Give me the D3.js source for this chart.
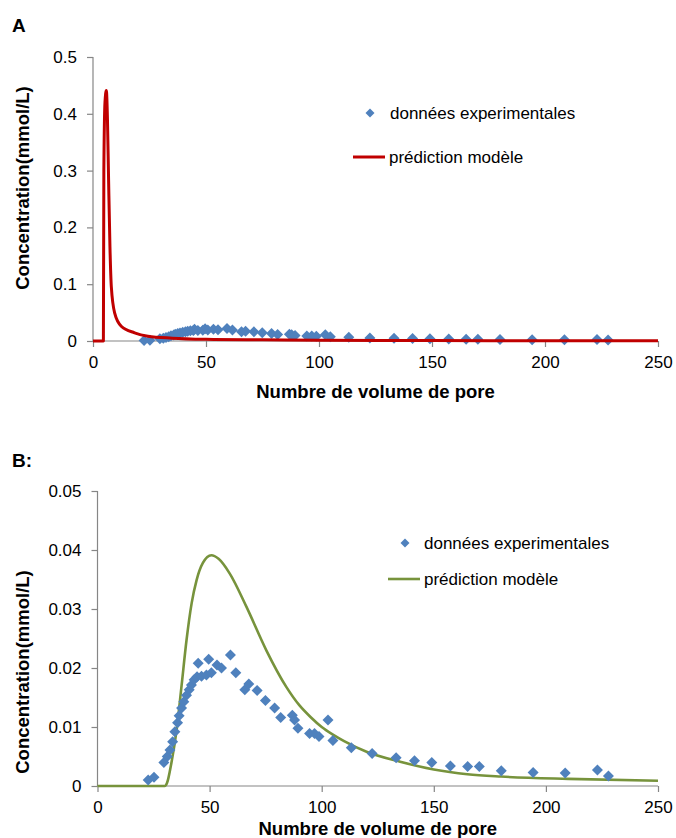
<!DOCTYPE html>
<html><head><meta charset="utf-8">
<script src="https://cdn.jsdelivr.net/npm/d3@7/dist/d3.min.js"></script>
<style>
html,body{margin:0;padding:0;background:#fff;}
svg{display:block;font-family:"Liberation Sans",Arial,sans-serif;}
</style></head>
<body>
<script>
// ---- data ----
const xTicks = [0, 50, 100, 150, 200, 250];
const yTicksA = [0, 0.1, 0.2, 0.3, 0.4, 0.5];
const yTicksB = [0, 0.01, 0.02, 0.03, 0.04, 0.05];
const seriesNames = ["données experimentales", "prédiction modèle"];
const panelLabels = ["A", "B:"];
const xTitle = "Numbre de volume de pore";
const yTitle = "Concentration(mmol/L)";

const expX = [22.6, 25.2, 29.6, 31.1, 32.3, 33.5, 34.5, 35.7, 36.4, 37.5, 38.5, 39.7, 40.9, 41.9, 43.1, 44.4, 44.9, 46.4, 48.6, 49.6, 50.8, 53.3, 55.3, 59.3, 61.7, 65.7, 67.5, 71.2, 74.9, 79.0, 81.7, 86.9, 87.9, 89.4, 94.6, 96.8, 98.8, 102.8, 105.0, 113.2, 122.5, 133.2, 141.4, 149.1, 157.4, 165.1, 170.3, 180.1, 194.3, 208.6, 223.0, 227.9];
const expY = [0.0010, 0.0015, 0.0040, 0.0050, 0.0061, 0.0075, 0.0092, 0.0107, 0.0119, 0.0132, 0.0143, 0.0154, 0.0163, 0.0171, 0.0180, 0.0185, 0.0208, 0.0186, 0.0188, 0.0215, 0.0192, 0.0205, 0.0200, 0.0222, 0.0192, 0.0163, 0.0173, 0.0162, 0.0145, 0.0132, 0.0116, 0.0120, 0.0112, 0.0098, 0.0089, 0.0089, 0.0084, 0.0112, 0.0077, 0.0065, 0.0055, 0.0048, 0.0043, 0.0040, 0.0034, 0.0033, 0.0033, 0.0026, 0.0023, 0.0022, 0.0027, 0.0017];

const modelAX = [0, 4.6, 4.8, 5.3, 5.9, 6.4, 6.9, 7.5, 8.1, 9.6, 12.5, 18.4, 24.3, 35, 50, 75, 100, 150, 200, 250];
const modelAY = [0, 0, 0.30, 0.42, 0.441, 0.39, 0.283, 0.166, 0.096, 0.049, 0.026, 0.0144, 0.0084, 0.005, 0.003, 0.002, 0.0013, 0.0008, 0.0005, 0.0004];

const modelBX = [0, 30, 31, 33, 35.3, 37.5, 39.7, 42, 44.2, 47, 50.8, 54, 59, 66.4, 75.3, 84.2, 90, 95, 100, 105, 110, 120, 135, 150, 165, 180, 210, 250];
const modelBY = [0, 0, 0.0005, 0.004, 0.0095, 0.017, 0.0247, 0.031, 0.0349, 0.0378, 0.0391, 0.0385, 0.036, 0.0304, 0.023, 0.0168, 0.0137, 0.0117, 0.0100, 0.0087, 0.0076, 0.0058, 0.0041, 0.0028, 0.002, 0.0016, 0.0012, 0.0009];

// ---- drawing ----
const W = 676, H = 838;
const svg = d3.select("body").append("svg").attr("width", W).attr("height", H);

const FONT = 17;
const TITLE_FONT = 18.5;
const axisColor = "#868686";
const blue = "#4F81BD";

function diamondPath(cx, cy, r) {
  return `M${cx},${cy - r}L${cx + r},${cy}L${cx},${cy + r}L${cx - r},${cy}Z`;
}

function panel(cfg) {
  const g = svg.append("g");
  const x = d3.scaleLinear().domain([0, 250]).range([cfg.left, cfg.right]);
  const y = d3.scaleLinear().domain([0, cfg.yMax]).range([cfg.bottom, cfg.top]);

  // panel label
  g.append("text").attr("x", 12).attr("y", cfg.labelY)
    .attr("font-size", 19).attr("font-weight", "bold").text(cfg.label);

  // y axis
  const ya = g.append("g").attr("transform", `translate(${cfg.left},0)`)
    .call(d3.axisLeft(y).tickValues(cfg.yTicks).tickSize(6).tickPadding(10)
      .tickFormat(d => String(d)));
  // x axis
  const xa = g.append("g").attr("transform", `translate(0,${cfg.bottom})`)
    .call(d3.axisBottom(x).tickValues(xTicks).tickSize(6).tickPadding(9)
      .tickFormat(d => String(d)));
  [ya, xa].forEach(a => {
    a.select(".domain").attr("stroke", axisColor).attr("stroke-width", 1.2);
    a.selectAll(".tick line").attr("stroke", axisColor).attr("stroke-width", 1.2);
    a.selectAll("text").attr("font-size", FONT).attr("fill", "#000")
      .attr("font-family", '"Liberation Sans",Arial,sans-serif');
  });
  xa.select(".domain").attr("d", `M${cfg.left},0H${cfg.right}`);
  ya.select(".domain").attr("d", `M0,${cfg.bottom}V${cfg.top}`);

  // axis titles
  g.append("text").attr("x", (cfg.left + cfg.right) / 2).attr("y", cfg.xTitleY)
    .attr("text-anchor", "middle").attr("font-size", TITLE_FONT).attr("font-weight", "bold")
    .text(xTitle);
  g.append("text").attr("transform", `translate(${cfg.yTitleX},${cfg.yTitleCY}) rotate(-90)`)
    .attr("text-anchor", "middle").attr("font-size", TITLE_FONT).attr("font-weight", "bold")
    .text(yTitle);

  const line = d3.line().x(d => x(d[0])).y(d => y(d[1])).curve(d3.curveMonotoneX);
  const modelPts = cfg.mx.map((v, i) => [v, cfg.my[i]]);
  const expPts = expX.map((v, i) => [v, expY[i]]);

  const drawLine = () => g.append("path").datum(modelPts).attr("d", line)
    .attr("fill", "none").attr("stroke", cfg.color).attr("stroke-width", cfg.lw)
    .attr("stroke-linejoin", "round");
  const drawPts = () => g.append("g").selectAll("path").data(expPts).join("path")
    .attr("d", d => diamondPath(x(d[0]), y(d[1]), 5.5)).attr("fill", blue);

  if (cfg.lineOnTop) { drawPts(); drawLine(); } else { drawLine(); drawPts(); }

  // legend
  const L = cfg.legend;
  g.append("path").attr("d", diamondPath(L.mx, L.my, 4.5)).attr("fill", blue);
  g.append("text").attr("x", L.tx).attr("y", L.my).attr("dy", "0.35em")
    .attr("font-size", FONT).text(seriesNames[0]);
  g.append("line").attr("x1", L.lx1).attr("x2", L.lx2).attr("y1", L.ly).attr("y2", L.ly)
    .attr("stroke", cfg.color).attr("stroke-width", cfg.lw);
  g.append("text").attr("x", L.tx2).attr("y", L.ly).attr("dy", "0.35em")
    .attr("font-size", FONT).text(seriesNames[1]);
}

panel({
  label: panelLabels[0], labelY: 32,
  left: 93, right: 658, top: 57, bottom: 341, yMax: 0.5, yTicks: yTicksA,
  mx: modelAX, my: modelAY, color: "#C00000", lw: 3, lineOnTop: true,
  xTitleY: 398, yTitleX: 29, yTitleCY: 188,
  legend: { mx: 370, my: 113, tx: 390, lx1: 353, lx2: 385, ly: 157, tx2: 389 }
});

panel({
  label: panelLabels[1], labelY: 467,
  left: 97.5, right: 658, top: 491, bottom: 786, yMax: 0.05, yTicks: yTicksB,
  mx: modelBX, my: modelBY, color: "#77933C", lw: 2.6, lineOnTop: false,
  xTitleY: 835, yTitleX: 29, yTitleCY: 672,
  legend: { mx: 405, my: 543, tx: 424, lx1: 388, lx2: 420, ly: 579, tx2: 424 }
});
</script>
</body></html>
